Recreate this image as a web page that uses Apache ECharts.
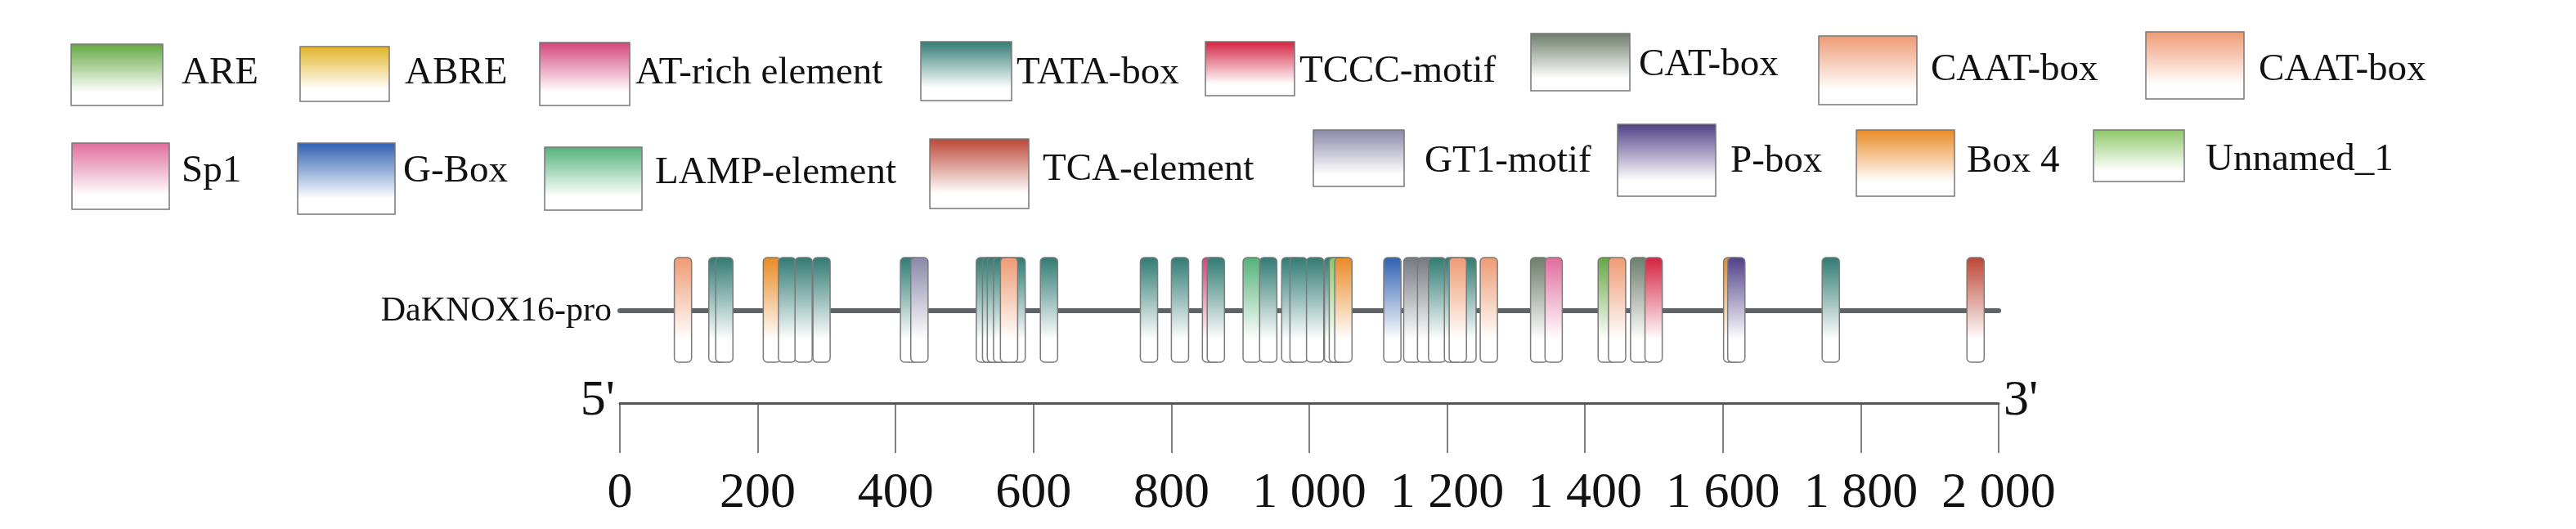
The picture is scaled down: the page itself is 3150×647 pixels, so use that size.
<!DOCTYPE html>
<html><head><meta charset="utf-8">
<script src="https://cdn.jsdelivr.net/npm/echarts@6/dist/echarts.min.js"></script>
<style>html,body{margin:0;padding:0;background:#fff}#c{width:3150px;height:647px}</style>
</head><body><div id="c"></div>
<script>
// motif types and colours
const motifTypes = ['ARE','ABRE','AT-rich element','TATA-box','TCCC-motif','CAT-box','CAAT-box','CAAT-box ','Sp1','G-Box','LAMP-element','TCA-element','GT1-motif','P-box','Box 4','Unnamed_1','grey'];
const motifColors = ['#63a83f','#e0b325','#d4447a','#2f7a72','#d4213f','#6c7d69','#ee9a72','#ee9a72','#df6c9c','#2e60b2','#52b27a','#bb4535','#8a87a8','#4f3f86','#e88a25','#8cc766','#737880'];
// motif start positions (bp) and types
const motifStarts = [79,129,139,208,230,254,280,407,422,517,526,533,542,563,552,610,755,800,845,852,904,928,960,972,996,1022,1029,1037,1108,1137,1157,1173,1196,1217,1203,1248,1321,1342,1419,1434,1466,1487,1601,1607,1744,1954];
const motifKinds = ['CAAT-box','TATA-box','TATA-box','Box 4','TATA-box','TATA-box','TATA-box','TATA-box','GT1-motif','TATA-box','TATA-box','TATA-box','TATA-box','TATA-box','CAAT-box','TATA-box','TATA-box','TATA-box','AT-rich element','TATA-box','LAMP-element','TATA-box','TATA-box','TATA-box','TATA-box','TATA-box','Unnamed_1','Box 4','G-Box','grey','grey','TATA-box','TATA-box','TATA-box','CAAT-box','CAAT-box','CAT-box','Sp1','ARE','CAAT-box','CAT-box','TCCC-motif','Box 4','P-box','TATA-box','TCA-element'];
const motifLength = 25;
const seqName = 'DaKNOX16-pro';
const seqLength = 2000;
const tickValues = [0,200,400,600,800,1000,1200,1400,1600,1800,2000];

// legend entries: [label, type, swatch x,y,w,h, label x, label y]
const legendItems = [
 ['ARE','ARE',87,54,112,75,222,90],['ABRE','ABRE',367,57,109,67,495,90],['AT-rich element','AT-rich element',660,52,110,77,777,90],
 ['TATA-box','TATA-box',1126,51,111,72,1243,90],['TCCC-motif','TCCC-motif',1474,51,109,66,1589,88],['CAT-box','CAT-box',1872,41,121,70,2004,80],
 ['CAAT-box','CAAT-box',2224,44,120,84,2361,86],['CAAT-box','CAAT-box ',2624,39,120,82,2762,86],
 ['Sp1','Sp1',88,175,119,81,222,210],['G-Box','G-Box',364,175,119,87,493,210],['LAMP-element','LAMP-element',666,180,119,77,801,212],
 ['TCA-element','TCA-element',1137,170,121,85,1275,208],['GT1-motif','GT1-motif',1606,159,111,69,1742,198],['P-box','P-box',1978,152,120,88,2116,198],
 ['Box 4','Box 4',2270,159,120,81,2405,198],['Unnamed_1','Unnamed_1',2560,159,111,63,2697,196]
];
function colorOf(t){return motifColors[motifTypes.indexOf(t)];}
function grad(c){return new echarts.graphic.LinearGradient(0,0,0,1,[{offset:0,color:c},{offset:0.78,color:'#ffffff'},{offset:1,color:'#ffffff'}]);}

const FONT='"Liberation Serif","DejaVu Serif",serif';
const chart = echarts.init(document.getElementById('c'),null,{renderer:'canvas'});
const graphics=[];
legendItems.forEach(it=>{
  graphics.push({type:'rect',shape:{x:it[2],y:it[3],width:it[4],height:it[5]},style:{fill:grad(colorOf(it[1])),stroke:'#777',lineWidth:1.5}});
  graphics.push({type:'text',x:it[6],y:it[7],style:{text:it[0],font:'47px '+FONT,fill:'#111',textVerticalAlign:'middle'}});
});
graphics.push({type:'text',x:748,y:381,style:{text:seqName,font:'42px '+FONT,fill:'#111',textAlign:'right',textVerticalAlign:'middle'}});
graphics.push({type:'text',x:752,y:522,style:{text:"5'",font:'62px '+FONT,fill:'#111',textAlign:'right',textVerticalAlign:'bottom'}});
graphics.push({type:'text',x:2450,y:522,style:{text:"3'",font:'62px '+FONT,fill:'#111',textAlign:'left',textVerticalAlign:'bottom'}});

const motifData = motifStarts.map((s,i)=>[s,s+motifLength,motifKinds[i]]);
chart.setOption({
  animation:false,
  graphic:graphics,
  grid:[{left:758,right:706,top:315,height:128},{left:758,right:706,top:480,height:13}],
  xAxis:[{gridIndex:0,type:'value',min:0,max:seqLength,show:false},
         {gridIndex:1,type:'value',min:0,max:seqLength,interval:200,position:'bottom',
          axisLine:{lineStyle:{color:'#555',width:3}},axisTick:{length:61,lineStyle:{color:'#555',width:1.5}},
          splitLine:{show:false},
          axisLabel:{margin:80,fontFamily:FONT,fontSize:62,color:'#111',
            formatter:v=>String(v).replace(/\B(?=(\d{3})+(?!\d))/g,' ')}}],
  yAxis:[{gridIndex:0,type:'value',min:0,max:1,show:false},{gridIndex:1,type:'value',min:0,max:1,show:false}],
  series:[
    {type:'custom',xAxisIndex:0,yAxisIndex:0,data:[[0,seqLength]],
     renderItem:(p,api)=>{const a=api.coord([api.value(0),0.5]),b=api.coord([api.value(1),0.5]);
       return {type:'line',shape:{x1:a[0],y1:a[1]+1,x2:b[0],y2:b[1]+1},style:{stroke:'#5f6368',lineWidth:6,lineCap:'round'}};}},
    {type:'custom',xAxisIndex:0,yAxisIndex:0,data:motifData,
     renderItem:(p,api)=>{const a=api.coord([api.value(0),1]),b=api.coord([api.value(1),0]);
       const t=motifData[p.dataIndex][2];
       return {type:'rect',shape:{x:a[0],y:a[1],width:b[0]-a[0],height:b[1]-a[1],r:5},style:{fill:grad(colorOf(t)),stroke:'#7a7a7a',lineWidth:1.5}};}}
  ]
});
</script></body></html>
